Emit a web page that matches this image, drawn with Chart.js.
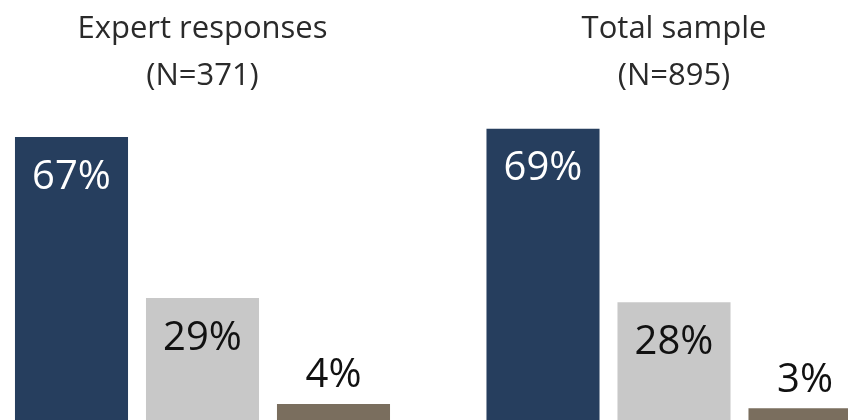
<!DOCTYPE html>
<html>
<head>
<meta charset="utf-8">
<script src="https://cdn.jsdelivr.net/npm/chart.js@4"></script>
<style>
  html, body { margin: 0; padding: 0; background: #fff; overflow: hidden; }
  body { width: 848px; height: 420px; position: relative; }
  .panel { position: absolute; top: 0; }
  #expert-chart { left: 0; }
  #total-chart { left: 424px; }
</style>
</head>
<body>
<canvas class="panel" id="expert-chart" width="424" height="430"></canvas>
<canvas class="panel" id="total-chart" width="460" height="430"></canvas>
<script>
const answers = ['Yes', 'No', "Don't know"];
const expertValues = [67, 29, 4];
const totalValues = [69, 28, 3];
const expertTitle = ['Expert responses', '(N=371)'];
const totalTitle = ['Total sample', '(N=895)'];

const barColors = ['#263e5e', '#c8c8c8', '#7a6e5e'];
const labelColors = ['#ffffff', '#111111', '#111111'];
const fontName = '"Open Sans", "Noto Sans", sans-serif';

// percentage labels: inside the tall bars, above the short ones
const valueLabels = {
    id: 'valueLabels',
    afterDatasetsDraw(chart) {
        const ctx = chart.ctx;
        const meta = chart.getDatasetMeta(0);
        const values = chart.data.datasets[0].data;
        ctx.save();
        ctx.font = '40px ' + fontName;
        ctx.textAlign = 'center';
        ctx.textBaseline = 'middle';
        meta.data.forEach((bar, i) => {
            const inside = values[i] >= 10;
            ctx.fillStyle = inside ? labelColors[i] : '#111111';
            const y = inside ? bar.y + 40 : bar.y - 28;
            ctx.fillText(values[i] + '%', bar.x, y);
        });
        ctx.restore();
    }
};

function panelChart(canvasId, values, title, padLeft, padRight) {
    return new Chart(document.getElementById(canvasId), {
        type: 'bar',
        data: {
            labels: answers,
            datasets: [{
                data: values,
                backgroundColor: barColors,
                borderWidth: 0,
                barPercentage: 0.863,
                categoryPercentage: 1
            }]
        },
        options: {
            responsive: false,
            animation: false,
            layout: {
                padding: { left: padLeft, right: padRight, top: 0, bottom: 9 }
            },
            scales: {
                x: { display: false },
                y: { display: false, min: 0, max: 70 }
            },
            plugins: {
                legend: { display: false },
                tooltip: { enabled: false },
                title: {
                    display: true,
                    text: title,
                    color: '#2a2a2a',
                    font: { family: fontName, size: 31, weight: 'normal', lineHeight: 47 / 31 },
                    padding: { top: 5.5, bottom: 24.9 }
                }
            }
        },
        plugins: [valueLabels]
    });
}

panelChart('expert-chart', expertValues, expertTitle, 6, 25);
panelChart('total-chart', totalValues, totalTitle, 53.5, 13.5);
</script>
</body>
</html>
